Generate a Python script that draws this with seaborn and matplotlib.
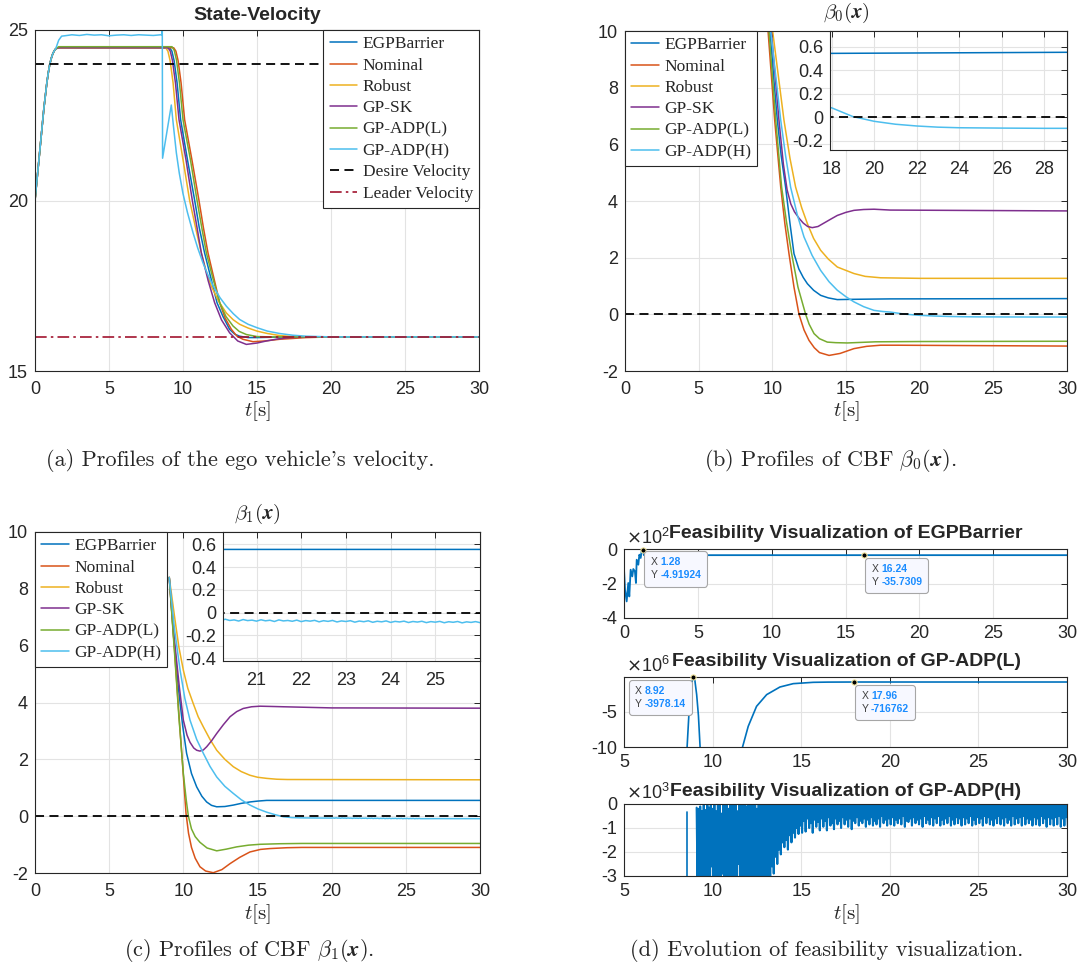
import numpy as np
import matplotlib
matplotlib.use("Agg")
import matplotlib.pyplot as plt
from matplotlib.ticker import FuncFormatter
from matplotlib.offsetbox import TextArea, HPacker, AnnotationBbox
import seaborn as sns

# ---------------- dados ----------------
methods = ["EGPBarrier", "Nominal", "Robust", "GP-SK", "GP-ADP(L)", "GP-ADP(H)"]
colors = ["#0072BD", "#D95319", "#EDB120", "#7E2F8E", "#77AC30", "#4DBEEE"]

# (a) velocidade - subida comum no inicio
rise_t = [0.0, 0.2, 0.4, 0.6, 0.8, 0.9, 1.0, 1.1, 1.2, 1.3, 1.4]
rise_v = [20.0, 20.9, 21.8, 22.7, 23.45, 23.75, 24.0, 24.17, 24.3, 24.39, 24.45]

vel_egp_t = [1.6, 9.1, 9.25, 9.4, 9.6, 9.84, 10.3, 10.79, 11.1, 11.46, 11.9, 12.3, 12.7,
             13.15, 13.5, 13.83, 14.4, 15.0, 17.0, 30.0]
vel_egp = [24.48, 24.48, 24.38, 24.1, 23.45, 22.37, 21.2, 20.0, 19.2, 18.46, 17.7, 17.0,
           16.6, 16.22, 16.08, 16.02, 15.98, 15.98, 16.0, 16.0]
vel_nom_t = [1.6, 9.37, 9.52, 9.67, 9.87, 10.11, 10.6, 11.08, 11.38, 11.69, 12.1, 12.48,
             12.85, 13.27, 13.65, 14.05, 14.73, 15.5, 16.53, 18.33, 20.0, 30.0]
vel_nom = [24.48, 24.48, 24.38, 24.1, 23.45, 22.37, 21.2, 20.0, 19.2, 18.46, 17.7, 17.0,
           16.55, 16.22, 16.02, 15.93, 15.86, 15.88, 15.93, 15.98, 16.0, 16.0]
vel_rob_t = [1.6, 8.83, 8.98, 9.13, 9.33, 9.55, 10.0, 10.45, 10.85, 11.24, 11.55, 11.9,
             12.4, 12.93, 13.4, 13.83, 14.4, 15.0, 15.7, 16.53, 17.4, 18.33, 30.0]
vel_rob = [24.48, 24.48, 24.38, 24.1, 23.45, 22.37, 21.2, 20.0, 19.2, 18.46, 17.95, 17.5,
           17.05, 16.7, 16.5, 16.37, 16.26, 16.17, 16.1, 16.04, 16.01, 16.0, 16.0]
vel_sk_t = [1.6, 8.99, 9.14, 9.29, 9.49, 9.73, 10.2, 10.63, 10.95, 11.24, 11.7, 12.14,
            12.6, 13.15, 13.7, 14.28, 15.0, 15.63, 16.4, 17.2, 18.78, 30.0]
vel_sk = [24.48, 24.48, 24.38, 24.1, 23.45, 22.37, 21.2, 20.0, 19.2, 18.46, 17.65, 17.0,
          16.5, 16.12, 15.88, 15.78, 15.82, 15.88, 15.94, 15.98, 16.0, 16.0]
vel_adl_t = [1.6, 9.26, 9.41, 9.56, 9.76, 10.0, 10.5, 10.95, 11.27, 11.58, 12.03, 12.48,
             12.9, 13.38, 13.8, 14.28, 15.0, 16.0, 30.0]
vel_adl = [24.51, 24.51, 24.4, 24.12, 23.45, 22.37, 21.2, 20.0, 19.2, 18.46, 17.7, 17.0,
           16.6, 16.32, 16.16, 16.07, 16.01, 16.0, 16.0]
vel_adh_t = [1.6, 1.8, 2.0, 2.5, 3.0, 3.5, 4.0, 4.5, 5.0, 5.5, 6.0, 6.5, 7.0, 7.5, 8.0, 8.5,
             8.58, 8.6, 8.62, 9.21, 9.35, 9.55, 9.75, 10.0, 10.3, 10.68, 11.0, 11.35, 11.7,
             12.03, 12.5, 12.93, 13.4, 13.83, 14.4, 15.0, 15.7, 16.53, 17.4, 18.33, 20.0, 30.0]
vel_adh = [24.7, 24.82, 24.83, 24.86, 24.84, 24.87, 24.85, 24.86, 24.83, 24.85, 24.86, 24.84,
           24.86, 24.85, 24.84, 24.86, 24.85, 25.0, 21.24, 22.8, 22.2, 21.4, 20.8, 20.2,
           19.65, 19.05, 18.6, 18.17, 17.8, 17.5, 17.15, 16.9, 16.68, 16.51, 16.37, 16.27,
           16.17, 16.1, 16.05, 16.02, 16.0, 16.0]
desire_t, desire_v = [0.0, 30.0], [24.0, 24.0]
leader_t, leader_v = [0.0, 30.0], [16.0, 16.0]
zero_t, zero_v = [0.0, 30.0], [0.0, 0.0]

# (b) beta_0
b0_egp_t = [9.4, 9.84, 10.1, 10.34, 10.6, 10.9, 11.2, 11.47, 11.8, 12.1, 12.38, 12.8,
            13.28, 13.8, 14.41, 15.5, 18.0, 30.0]
b0_egp = [16.0, 10.0, 8.3, 6.85, 5.6, 4.49, 3.2, 2.14, 1.6, 1.3, 1.08, 0.85, 0.67, 0.58,
          0.52, 0.53, 0.545, 0.555]
b0_nom_t = [9.3, 9.71, 10.16, 10.57, 10.85, 11.13, 11.47, 11.81, 12.15, 12.49, 12.85,
            13.2, 13.85, 14.6, 15.54, 16.4, 17.35, 18.5, 30.0]
b0_nom = [16.0, 10.0, 6.85, 4.49, 3.2, 2.14, 0.96, 0.0, -0.55, -0.92, -1.18, -1.35,
          -1.45, -1.38, -1.21, -1.13, -1.09, -1.09, -1.12]
b0_rob_t = [9.5, 10.02, 10.79, 11.2, 11.58, 12.0, 12.38, 12.8, 13.28, 13.8, 14.41, 15.54,
            16.3, 17.35, 20.0, 30.0]
b0_rob = [16.0, 10.0, 6.85, 5.5, 4.49, 3.75, 3.2, 2.68, 2.26, 1.95, 1.67, 1.44, 1.34,
          1.29, 1.27, 1.27]
b0_sk_t = [9.45, 9.93, 10.45, 10.75, 11.0, 11.25, 11.5, 11.8, 12.1, 12.4, 12.71, 13.1,
           13.5, 14.0, 14.41, 15.0, 15.54, 16.2, 16.9, 18.0, 30.0]
b0_sk = [16.0, 10.0, 6.85, 5.3, 4.4, 3.9, 3.62, 3.4, 3.22, 3.1, 3.06, 3.1, 3.22, 3.37,
         3.49, 3.6, 3.67, 3.7, 3.71, 3.68, 3.65]
b0_adl_t = [9.3, 9.77, 10.23, 10.63, 10.95, 11.31, 11.74, 12.26, 12.5, 12.83, 13.2, 13.73,
            14.3, 15.09, 17.0, 20.0, 30.0]
b0_adl = [16.0, 10.0, 6.85, 4.49, 3.3, 2.14, 0.96, 0.0, -0.35, -0.68, -0.86, -0.98,
          -1.0, -1.01, -0.97, -0.96, -0.95]
b0_adh_t = [9.45, 9.89, 10.57, 10.9, 11.24, 11.7, 12.15, 12.7, 13.28, 13.85, 14.41, 15.0,
            15.54, 16.2, 16.9, 17.5, 18.0, 19.0, 20.0, 21.0, 22.0, 23.0, 24.0, 26.0, 28.0, 30.0]
b0_adh = [16.0, 10.0, 6.85, 5.6, 4.49, 3.5, 2.73, 2.08, 1.55, 1.15, 0.85, 0.62, 0.44,
          0.27, 0.14, 0.1, 0.08, 0.005, -0.035, -0.06, -0.075, -0.085, -0.09, -0.093,
          -0.095, -0.095]

# (c) beta_1
b1_egp_t = [9.05, 9.35, 9.66, 9.95, 10.22, 10.55, 10.9, 11.25, 11.57, 11.9, 12.25, 12.8,
            13.37, 13.9, 14.49, 15.0, 15.62, 30.0]
b1_egp = [8.4, 6.3, 4.55, 3.2, 2.21, 1.5, 1.03, 0.7, 0.5, 0.38, 0.33, 0.34, 0.39, 0.45,
          0.5, 0.53, 0.555, 0.555]
b1_nom_t = [9.05, 9.4, 9.7, 9.95, 10.18, 10.35, 10.55, 10.8, 11.12, 11.5, 12.02, 12.6,
            13.15, 13.8, 14.49, 15.2, 15.84, 17.0, 18.0, 30.0]
b1_nom = [8.4, 5.9, 3.6, 1.8, 0.1, -0.6, -1.1, -1.48, -1.78, -1.93, -1.99, -1.88, -1.67,
          -1.45, -1.26, -1.17, -1.14, -1.11, -1.1, -1.1]
b1_rob_t = [9.05, 9.44, 9.7, 10.0, 10.3, 10.67, 11.0, 11.35, 11.8, 12.25, 12.8, 13.37,
            13.9, 14.49, 15.0, 15.62, 16.3, 17.0, 30.0]
b1_rob = [8.4, 6.9, 5.95, 5.14, 4.5, 3.96, 3.5, 3.14, 2.7, 2.32, 2.0, 1.74, 1.57, 1.44,
          1.37, 1.33, 1.3, 1.29, 1.28]
b1_sk_t = [9.05, 9.4, 9.73, 10.0, 10.25, 10.45, 10.7, 10.9, 11.12, 11.35, 11.57, 11.9,
           12.25, 12.7, 13.15, 13.6, 14.04, 14.6, 15.17, 16.0, 16.74, 20.0, 30.0]
b1_sk = [8.4, 6.2, 4.55, 3.38, 2.85, 2.6, 2.4, 2.32, 2.29, 2.33, 2.44, 2.65, 2.91, 3.22,
         3.5, 3.68, 3.79, 3.85, 3.87, 3.86, 3.85, 3.81, 3.8]
b1_adl_t = [9.05, 9.4, 9.7, 10.0, 10.2, 10.34, 10.55, 10.8, 11.12, 11.6, 12.25, 12.9,
            13.6, 14.4, 15.17, 16.5, 18.0, 30.0]
b1_adl = [8.4, 5.8, 3.5, 1.5, 0.55, 0.0, -0.45, -0.72, -0.92, -1.12, -1.22, -1.16,
          -1.08, -1.02, -0.99, -0.97, -0.96, -0.96]
b1_adh_t = [9.05, 9.4, 9.78, 10.1, 10.45, 10.9, 11.35, 11.8, 12.25, 12.8, 13.37, 13.9,
            14.49, 15.05, 15.62, 16.2, 16.74, 17.3, 17.87, 19.0, 20.0]
b1_adh = [8.4, 6.6, 5.14, 4.15, 3.38, 2.7, 2.21, 1.75, 1.38, 1.05, 0.8, 0.58, 0.39, 0.25,
          0.14, 0.05, -0.02, -0.05, -0.06, -0.065, -0.068]
# trecho ruidoso de GP-ADP(H), amostrado a cada 0.1 s entre 20.1 e 26.0
b1_adh_noise = [-0.062, -0.071, -0.058, -0.069, -0.064, -0.074, -0.061, -0.070, -0.066, -0.075,
                -0.063, -0.072, -0.067, -0.078, -0.064, -0.073, -0.069, -0.076, -0.066, -0.079,
                -0.070, -0.075, -0.068, -0.081, -0.071, -0.077, -0.069, -0.082, -0.073, -0.078,
                -0.071, -0.084, -0.074, -0.080, -0.072, -0.085, -0.076, -0.081, -0.073, -0.086,
                -0.077, -0.082, -0.075, -0.087, -0.078, -0.083, -0.076, -0.088, -0.079, -0.084,
                -0.077, -0.089, -0.080, -0.085, -0.078, -0.090, -0.081, -0.086, -0.079, -0.088]
b1_adh_tail_t = [27.0, 28.5, 30.0]
b1_adh_tail = [-0.086, -0.087, -0.088]

# (d) viabilidade (valores ja divididos pelo expoente do eixo)
feas_egp_t = [0.0, 0.0, 0.07, 0.18, 0.29, 0.36, 0.45, 0.56, 0.63, 0.74, 0.81, 0.86, 0.97,
              1.04, 1.13, 1.2, 1.28, 1.35, 16.24, 30.0]
feas_egp = [-3.9, -1.16, -2.36, -3.04, -1.97, -2.75, -1.2, -1.59, -1.16, -1.3, -1.97, -0.62,
            -0.91, -0.33, -0.52, -0.08, -0.0492, -0.357, -0.357, -0.357]   # x1e2
feas_adl_t = [8.5, 8.55, 8.67, 8.75, 8.85, 8.92, 9.0, 9.1, 9.2, 9.3, 9.35, 11.6, 11.69,
              12.01, 12.48, 13.05, 13.8, 14.55, 15.68, 16.5, 17.96, 30.0]
feas_adl = [-20.0, -10.5, -5.0, -2.5, -0.6, -0.004, -0.5, -2.5, -5.5, -10.3, -20.0, -20.0,
            -10.0, -7.05, -4.19, -2.52, -1.43, -0.95, -0.76, -0.73, -0.717, -0.716]  # x1e6
feas_adh_pre_t = [8.53, 8.53]
feas_adh_pre = [-0.32, -3.6]
# GP-ADP(H) (x1e3): maximos em 9.10 + 0.1k e minimos em 9.15 + 0.1k
feas_adh_peak = [
    -0.15, -0.2, -0.1, -0.3, -0.05, -0.25, 0.1, -0.15, 0.0, -0.2,
    0.1, -0.3, 0.05, 0.1, -0.4, 0.1, 0.0, 0.1, -0.2, 0.1,
    0.1, 0.0, 0.1, -0.3, 0.1, 0.1, 0.0, 0.1, -0.1, 0.1,
    0.1, 0.0, 0.1, 0.1, -0.2, 0.1, 0.1, 0.0, 0.1, 0.1,
    0.1, 0.05, 0.1, 0.0, 0.1, 0.1, -0.05, 0.1, 0.05, 0.1,
    0.05, 0.1, 0.0, 0.1, 0.1, 0.05, 0.1, -0.05, 0.1, 0.1,
    0.1, 0.0, 0.1, 0.05, 0.1, 0.1, 0.0, 0.1, 0.05, -0.05,
    0.1, 0.1, 0.05, 0.1, 0.0, 0.1, 0.1, -0.05, 0.1, 0.05,
    0.0, 0.1, 0.1, 0.05, 0.1, 0.0, 0.1, 0.1, 0.05, 0.1,
    0.1, 0.05, -0.05, 0.1, 0.1, 0.0, 0.1, 0.05, 0.1, 0.1,
    0.05, 0.1, 0.1, 0.0, 0.1, 0.05, 0.1, -0.05, 0.1, 0.1,
    0.1, 0.0, 0.1, 0.1, 0.05, 0.1, 0.0, 0.1, 0.05, 0.1,
    0.0, 0.1, 0.05, 0.1, 0.1, -0.05, 0.1, 0.1, 0.0, 0.1,
    0.1, 0.05, 0.1, 0.0, 0.1, 0.1, 0.05, 0.1, -0.05, 0.1,
    0.05, 0.1, 0.0, 0.1, 0.1, 0.05, 0.1, 0.0, 0.1, 0.1,
    0.1, 0.0, 0.1, 0.05, -0.05, 0.1, 0.1, 0.05, 0.1, 0.0,
    0.1, 0.1, 0.05, 0.1, 0.0, 0.1, -0.05, 0.1, 0.1, 0.05,
    0.0, 0.1, 0.1, 0.05, 0.1, 0.0, 0.1, 0.1, 0.05, 0.1,
    0.1, 0.05, 0.1, 0.0, 0.1, 0.1, -0.05, 0.1, 0.05, 0.1,
    0.05, 0.1, 0.0, 0.1, 0.1, 0.05, 0.1, 0.0, 0.1, 0.1,
    0.1, 0.0, 0.1, 0.05, 0.1, 0.1, 0.0, 0.1, 0.05, 0.1,
]
feas_adh_trough = [
    -3.5, -3.8, -3.2, -3.9, -3.6, -4.0, -3.4, -3.8, -2.6, -3.7,
    -3.9, -3.3, -4.1, -3.6, -2.9, -3.8, -4.0, -3.5, -3.9, -3.2,
    -3.7, -4.0, -3.4, -2.5, -3.8, -3.6, -4.1, -3.3, -3.9, -3.5,
    -3.8, -3.4, -4.0, -3.6, -3.9, -3.2, -3.7, -3.5, -3.3, -3.4,
    -3.1, -3.2, -2.6, -2.9, -2.2, -2.5, -1.9, -2.1, -1.6, -1.8,
    -1.5, -1.9, -1.3, -1.6, -1.2, -1.4, -1.0, -1.25, -0.9, -1.2,
    -0.7, -1.15, -0.6, -1.0, -0.8, -1.2, -0.65, -0.95, -0.75, -1.1,
    -0.6, -0.95, -0.7, -1.1, -0.55, -0.9, -0.8, -1.05, -0.6, -0.85,
    -0.7, -1.0, -0.55, -0.85, -0.65, -0.95, -0.6, -1.05, -0.7, -0.8,
    -0.55, -0.9, -0.7, -0.8, -0.6, -0.95, -0.65, -0.85, -0.55, -0.9,
    -0.7, -0.85, -0.6, -0.95, -0.5, -0.8, -0.65, -0.9, -0.6, -0.85,
    -0.55, -0.9, -0.65, -0.8, -0.6, -0.85, -0.5, -0.95, -0.7, -0.75,
    -0.6, -0.9, -0.55, -0.8, -0.65, -0.85, -0.6, -0.95, -0.5, -0.8,
    -0.65, -0.85, -0.55, -0.9, -0.6, -0.8, -0.5, -0.9, -0.65, -0.85,
    -0.6, -0.8, -0.5, -0.9, -0.65, -0.85, -0.55, -0.8, -0.6, -0.9,
    -0.55, -0.85, -0.6, -0.8, -0.5, -0.9, -0.65, -0.85, -0.55, -0.8,
    -0.6, -0.9, -0.5, -0.8, -0.55, -0.85, -0.65, -0.9, -0.6, -0.8,
    -0.5, -0.85, -0.6, -0.9, -0.55, -0.8, -0.65, -0.9, -0.5, -0.85,
    -0.6, -0.8, -0.55, -0.9, -0.5, -0.85, -0.6, -0.8, -0.65, -0.9,
    -0.55, -0.85, -0.6, -0.9, -0.5, -0.8, -0.6, -0.95, -0.55, -0.85,
    -0.6, -0.9, -0.55, -0.85, -0.5, -0.95, -0.6, -0.9, -0.55, -0.95,
]
tip_egp_x = [1.28, 16.24]
tip_egp_y = [-4.91924, -35.7309]
tip_adl_x = [8.92, 17.96]
tip_adl_y = [-3978.14, -716762]

# ---------------- estilo ----------------
sns.set_style("white")
plt.rcParams["font.family"] = ["Liberation Sans", "DejaVu Sans"]
plt.rcParams["axes.unicode_minus"] = False

W, H = 1079, 975
INK = "#262626"
LEG_FONT = {"family": "Liberation Serif", "size": 12.5}


def box(x0, y0, x1, y1):
    return [x0 / W, 1 - y1 / H, (x1 - x0) / W, (y1 - y0) / H]


def fx(x):
    return x / W


def fy(y):
    return 1 - y / H


def line(ax, t, v, color, lw=1.1, **kw):
    sns.lineplot(x=t, y=v, ax=ax, color=color, lw=lw, estimator=None, sort=False, **kw)
    return ax.lines[-1]


def style(ax, grid=True, size=13):
    for s in ax.spines.values():
        s.set_color(INK)
        s.set_linewidth(0.8)
    ax.tick_params(which="both", direction="in", length=4, width=0.7, top=True,
                   right=True, labelsize=size, colors=INK)
    ax.tick_params(axis="x", pad=7)
    ax.tick_params(axis="y", pad=5)
    ax.grid(grid, color="#e3e3e3", lw=0.8)
    ax.set_axisbelow(True)
    fmt = FuncFormatter(lambda v, p: f"{v:g}")
    ax.xaxis.set_major_formatter(fmt)
    ax.yaxis.set_major_formatter(fmt)
    ax.set_xlabel("")
    ax.set_ylabel("")


def legend(ax, handles, labels, loc):
    leg = ax.legend(handles, labels, loc=loc, frameon=True, fancybox=False,
                    framealpha=1, edgecolor=INK, borderaxespad=0, prop=LEG_FONT,
                    handlelength=1.6, handletextpad=0.3, labelspacing=0.3,
                    borderpad=0.35)
    leg.get_frame().set_linewidth(0.8)


def datatip(ax, x, y, scale, dx, dy, align=(0, 1)):
    sns.scatterplot(x=[x], y=[y / scale], ax=ax, color="black", s=14,
                    edgecolor="#f2e6a0", linewidth=0.8, zorder=6, clip_on=False)
    labels = TextArea("X\nY", textprops=dict(color="#404040", fontsize=7.5, linespacing=1.35))
    values = TextArea(f"{x:g}\n{y:g}", textprops=dict(color="#1a8cff", fontsize=7.5,
                                                      fontweight="bold", linespacing=1.35))
    pack = HPacker(children=[labels, values], align="top", pad=0, sep=2)
    ab = AnnotationBbox(pack, (x, y / scale), xybox=(dx, dy), xycoords="data",
                        boxcoords="offset points", box_alignment=align, frameon=True,
                        fontsize=7.5, annotation_clip=False, zorder=7,
                        bboxprops=dict(boxstyle="round,pad=0.6,rounding_size=0.3",
                                       fc="#f7f8ff", ec="#a6a6a6", lw=0.8))
    ax.add_artist(ab)


fig = plt.figure(figsize=(10.79, 9.75), dpi=100)
fig.patch.set_facecolor("white")

series_a = [(vel_egp_t, vel_egp), (vel_nom_t, vel_nom), (vel_rob_t, vel_rob),
            (vel_sk_t, vel_sk), (vel_adl_t, vel_adl), (vel_adh_t, vel_adh)]
series_b = [(b0_egp_t, b0_egp), (b0_nom_t, b0_nom), (b0_rob_t, b0_rob),
            (b0_sk_t, b0_sk), (b0_adl_t, b0_adl), (b0_adh_t, b0_adh)]
noise_t = list(np.round(np.arange(20.1, 26.05, 0.1), 2))
series_c = [(b1_egp_t, b1_egp), (b1_nom_t, b1_nom), (b1_rob_t, b1_rob),
            (b1_sk_t, b1_sk), (b1_adl_t, b1_adl),
            (b1_adh_t + noise_t + b1_adh_tail_t, b1_adh + b1_adh_noise + b1_adh_tail)]
DASH = (0, (5, 3))

# ---------- (a) ----------
ax_a = fig.add_axes(box(35, 30, 479, 371))
hs = []
for (t, v), c in zip(series_a, colors):
    hs.append(line(ax_a, rise_t + t, rise_v + v, c))
hs.append(line(ax_a, desire_t, desire_v, "black", lw=1.3, linestyle=DASH))
hs.append(line(ax_a, leader_t, leader_v, "#A2142F", lw=1.2, linestyle=(0, (7, 2.5, 1.5, 2.5))))
ax_a.set_xlim(0, 30)
ax_a.set_ylim(15, 25)
ax_a.set_xticks(range(0, 31, 5))
ax_a.set_yticks([15, 20, 25])
style(ax_a)
legend(ax_a, hs, methods + ["Desire Velocity", "Leader Velocity"], "upper right")
fig.text(fx(257), fy(15), "State-Velocity", ha="center", va="center",
         fontsize=14, fontweight="bold")


def beta_panel(main_box, inset_box, series, inset_xlim, inset_ylim, inset_xt, inset_yt):
    ax = fig.add_axes(box(*main_box))
    hs = []
    for (t, v), c in zip(series, colors):
        hs.append(line(ax, t, v, c))
    line(ax, zero_t, zero_v, "black", lw=1.3, linestyle=DASH)
    ax.set_xlim(0, 30)
    ax.set_ylim(-2, 10)
    ax.set_xticks(range(0, 31, 5))
    ax.set_yticks(range(-2, 11, 2))
    style(ax)
    legend(ax, hs, methods, "upper left")

    ins = fig.add_axes(box(*inset_box))
    ins.set_facecolor("white")
    for (t, v), c in zip(series, colors):
        line(ins, t, v, c)
    line(ins, zero_t, zero_v, "black", lw=1.3, linestyle=DASH)
    ins.set_xlim(*inset_xlim)
    ins.set_ylim(*inset_ylim)
    ins.set_xticks(inset_xt)
    ins.set_yticks(inset_yt)
    style(ins)
    ins.tick_params(axis="x", pad=8)
    return ax, ins


# ---------- (b) ----------
beta_panel((625, 31, 1067, 371), (830, 31, 1067, 150), series_b,
           (17.92, 29.07), (-0.28, 0.736), range(18, 29, 2), [-0.2, 0, 0.2, 0.4, 0.6])
fig.text(fx(846), fy(13), r"$\beta_0(\boldsymbol{x})$", ha="center", va="center",
         fontsize=15, math_fontfamily="cm")

# ---------- (c) ----------
beta_panel((35, 532, 480, 873), (223, 532, 480, 661), series_c,
           (20.25, 26.0), (-0.425, 0.708), range(21, 26), [-0.4, -0.2, 0, 0.2, 0.4, 0.6])
fig.text(fx(257), fy(514), r"$\beta_1(\boldsymbol{x})$", ha="center", va="center",
         fontsize=15, math_fontfamily="cm")

# ---------- (d) ----------
BLUE = "#0072BD"
d1 = fig.add_axes(box(624, 549, 1067, 618))
line(d1, feas_egp_t, feas_egp, BLUE, lw=1.3)
d1.set_xlim(0, 30)
d1.set_ylim(-4, 0)
d1.set_xticks(range(0, 31, 5))
d1.set_yticks([-4, -2, 0])
style(d1, grid=False)
d1.tick_params(axis="x", pad=5)

d2 = fig.add_axes(box(624, 677, 1067, 747))
line(d2, feas_adl_t, feas_adl, BLUE, lw=1.2)
d2.set_xlim(5, 30)
d2.set_ylim(-10, 0)
d2.set_xticks(range(5, 31, 5))
d2.set_yticks([-10, -5])
style(d2, grid=False)
d2.tick_params(axis="x", pad=5)

d3 = fig.add_axes(box(624, 804, 1067, 876))
peak_t = np.round(np.arange(9.1, 30.05, 0.1), 2)
adh_t = np.column_stack([peak_t, peak_t + 0.05]).ravel()
adh_v = np.column_stack([feas_adh_peak, feas_adh_trough]).ravel()
line(d3, feas_adh_pre_t, feas_adh_pre, BLUE, lw=1.2)
line(d3, adh_t, adh_v, BLUE, lw=1.5)
d3.set_xlim(5, 30)
d3.set_ylim(-3, 0)
d3.set_xticks(range(5, 31, 5))
d3.set_yticks([-3, -2, -1, 0])
style(d3, grid=False)
d3.tick_params(axis="x", pad=5)

for ax, e in [(d1, 2), (d2, 6), (d3, 3)]:
    ax.text(0.005, 1.02, r"$\times\mathregular{10^{%d}}$" % e, transform=ax.transAxes,
            ha="left", va="bottom", fontsize=13, color=INK)

for y, name in [(533, "EGPBarrier"), (661, "GP-ADP(L)"), (792, "GP-ADP(H)")]:
    fig.text(fx(846), fy(y), f"Feasibility Visualization of {name}", ha="center",
             va="center", fontsize=14, fontweight="bold")

datatip(d1, tip_egp_x[0], tip_egp_y[0], 100, 5.5, -5.5)
datatip(d1, tip_egp_x[1], tip_egp_y[1], 100, 5.5, -6.5)
datatip(d2, tip_adl_x[0], tip_adl_y[0], 1e6, -5.5, -6.5, align=(1, 1))
datatip(d2, tip_adl_x[1], tip_adl_y[1], 1e6, 5.5, -6.5)

# ---------- rotulos t[s] e legendas das figuras ----------
for x, y in [(257, 411), (846, 411), (257, 914), (846, 914)]:
    fig.text(fx(x), fy(y), r"$t[\mathrm{s}]$", ha="center", va="center", fontsize=15,
             math_fontfamily="cm")

caps = [(240, 460, "(a) Profiles of the ego vehicle's velocity."),
        (830, 460, r"(b) Profiles of CBF $\beta_0(\boldsymbol{x})$."),
        (249, 950, r"(c) Profiles of CBF $\beta_1(\boldsymbol{x})$."),
        (827, 950, "(d) Evolution of feasibility visualization.")]
for x, y, s in caps:
    fig.text(fx(x), fy(y), s, ha="center", va="center", fontsize=16, family="cmr10",
             math_fontfamily="cm")

fig.savefig("out.png", dpi=100)
